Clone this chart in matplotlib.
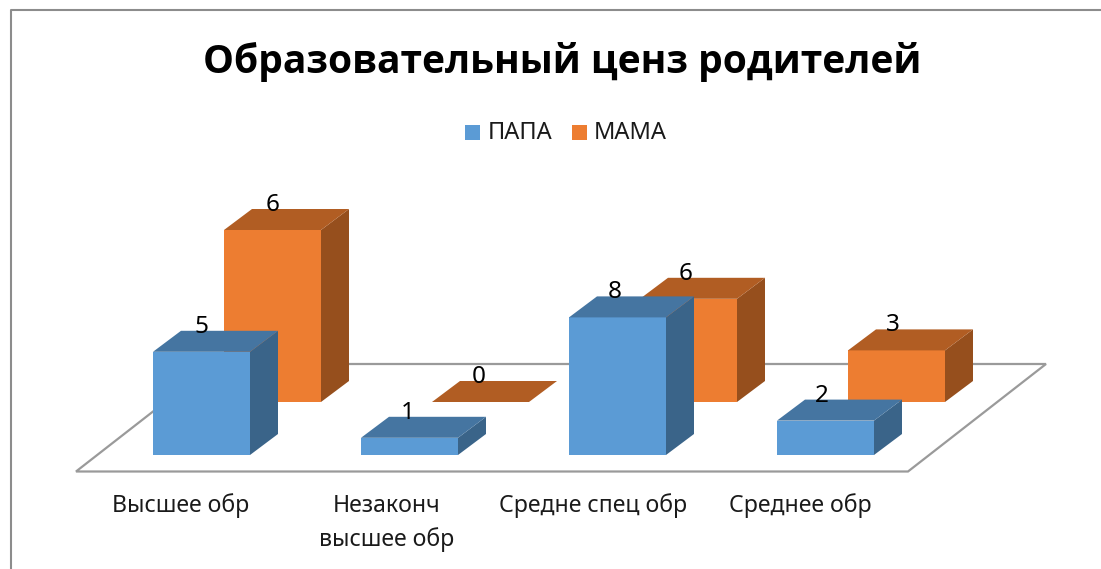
#!/usr/bin/env python3

import matplotlib
matplotlib.use("Agg")
import matplotlib.pyplot as plt
from matplotlib.patches import Polygon, Rectangle
from matplotlib.transforms import Affine2D

plt.rcParams['font.family'] = ['Noto Sans', 'DejaVu Sans']

title = "Образовательный ценз родителей"
categories = ["Высшее обр", "Незаконч\nвысшее обр", "Средне спец обр", "Среднее обр"]
series_names = ["ПАПА", "МАМА"]

# bar heights as drawn; the first group's labels do not agree with its heights
papa_heights = [6, 1, 8, 2]
mama_heights = [10, 0, 6, 3]
papa_labels = [5, 1, 8, 2]
mama_labels = [6, 0, 6, 3]

W, H = 1101, 569
CAT_PX = 208       # one category step
VAL_PX = 17.2      # one value unit
X0_PX = 201.5      # centre of first blue bar
Y0_PX = 455        # blue bar baseline

# one axes over the whole figure, scaled so x = category and y = value
fig = plt.figure(figsize=(W / 100, H / 100), dpi=100, facecolor="white")
ax = fig.add_axes([0, 0, 1, 1])
ax.set_xlim(-X0_PX / CAT_PX, (W - X0_PX) / CAT_PX)
ax.set_ylim((Y0_PX - H) / VAL_PX, Y0_PX / VAL_PX)
ax.axis("off")

# pixel coordinates from the top left, for the frame and the floor
px = Affine2D().scale(1, -1).translate(0, H)

BAR_W = 97 / CAT_PX
DX = 28 / CAT_PX
DY = 21 / VAL_PX


def draw_bar(x, base, h, front, top, side):
    left, right = x - BAR_W / 2, x + BAR_W / 2
    if h > 0:
        ax.add_patch(Rectangle((left, base), BAR_W, h, fc=front, ec="none", zorder=3))
        ax.add_patch(Polygon([(right, base), (right + DX, base + DY), (right + DX, base + h + DY), (right, base + h)],
                             fc=side, ec="none", zorder=3))
    ax.add_patch(Polygon([(left, base + h), (left + DX, base + h + DY), (right + DX, base + h + DY), (right, base + h)],
                         fc=top, ec="none", zorder=3))


# frame: top and left edges only
fig.add_artist(plt.Line2D([10.5, 10.5, 1101], [569, 9.5, 9.5], transform=px, color="#8c8c8c", lw=1.5))

# floor
ax.add_patch(Polygon([(76, 471.5), (214, 364), (1046, 364), (908, 471.5)], closed=True, transform=px,
                     fc="white", ec="#9a9a9a", lw=1.6, zorder=1))

MAMA_DX = 71 / CAT_PX
MAMA_BASE = 53 / VAL_PX

for i, h in enumerate(mama_heights):
    draw_bar(i + MAMA_DX, MAMA_BASE, h, "#ED7D31", "#B15D23", "#964F1D")
for i, h in enumerate(papa_heights):
    draw_bar(i, 0, h, "#5B9BD5", "#4575A1", "#3A6489")

LABEL_STEP = 0.9935
LABEL_UP = 4 / VAL_PX
for i, (h, lab) in enumerate(zip(papa_heights, papa_labels)):
    ax.text(i * LABEL_STEP, h + DY + LABEL_UP, str(lab), fontsize=17.5, color="black",
            ha="center", va="center", zorder=5)
for i, (h, lab) in enumerate(zip(mama_heights, mama_labels)):
    ax.text(i * LABEL_STEP + MAMA_DX, MAMA_BASE + h + DY + LABEL_UP, str(lab), fontsize=17.5, color="black",
            ha="center", va="center", zorder=5)

# category labels
label_x = [181, 387, 593, 800]
for x, cat in zip(label_x, categories):
    lines = cat.split("\n")
    for n, line in enumerate(lines):
        ax.text(x, 506 + n * 34, line, transform=px, fontsize=16.6, color="#1a1a1a", ha="center", va="center")

# legend
for sx, name, color, tx in zip([465, 572], series_names, ["#5B9BD5", "#ED7D31"], [488, 594]):
    ax.add_patch(Rectangle((sx, 125), 15, 15, transform=px, fc=color, ec="none"))
    ax.text(tx, 133, name, transform=px, fontsize=17, color="#1a1a1a", ha="left", va="center")

ax.text(562, 62, title, transform=px, fontsize=28.1, fontweight="bold", family=["Open Sans", "DejaVu Sans"],
        color="black", ha="center", va="center")

fig.savefig("out.png", dpi=100)
